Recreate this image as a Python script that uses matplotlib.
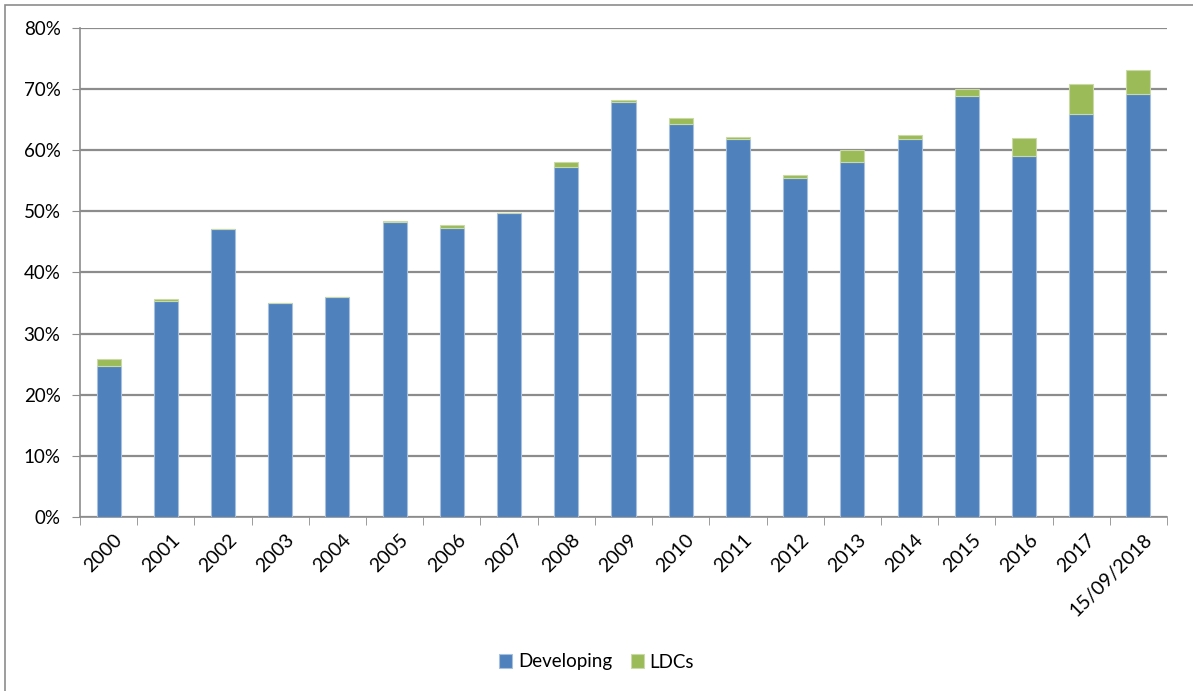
import matplotlib
matplotlib.use("Agg")
import matplotlib.pyplot as plt
from matplotlib.patches import Rectangle
from matplotlib.ticker import FuncFormatter, MultipleLocator
import numpy as np

categories = ["2000", "2001", "2002", "2003", "2004", "2005", "2006", "2007", "2008",
              "2009", "2010", "2011", "2012", "2013", "2014", "2015", "2016", "2017",
              "15/09/2018"]
developing = [24.7, 35.3, 47.1, 35.0, 36.0, 48.2, 47.3, 49.7, 57.2,
              67.9, 64.3, 61.9, 55.5, 58.0, 61.9, 68.8, 59.1, 66.0, 69.2]
ldcs = [1.1, 0.3, 0.0, 0.0, 0.0, 0.3, 0.5, 0.0, 0.9,
        0.3, 1.0, 0.3, 0.5, 2.0, 0.6, 1.3, 2.9, 4.8, 4.0]

blue = "#4F81BD"
green = "#9BBB59"
grid_grey = "#8C8C8C"

plt.rcParams["font.family"] = ["Lato", "DejaVu Sans"]

W, H = 1193, 691
fig = plt.figure(figsize=(W / 100, H / 100), dpi=100)
ax = fig.add_axes([80 / W, 1 - 517 / H, (1167 - 80) / W, (517 - 28) / H])

x = np.arange(len(categories))
ax.bar(x, developing, width=0.42, color=blue, edgecolor="#A7C0DE", linewidth=0.8,
       label="Developing", zorder=3)
ax.bar(x, ldcs, width=0.42, bottom=developing, color=green, edgecolor="#C9DAA8",
       linewidth=0.8, label="LDCs", zorder=3)

ax.set_xlim(-0.5, len(categories) - 0.5)
ax.set_ylim(0, 80)
ax.yaxis.set_major_locator(MultipleLocator(10))
ax.yaxis.set_major_formatter(FuncFormatter(lambda v, p: f"{v:.0f}%"))
ax.grid(axis="y", color=grid_grey, linewidth=1.6, zorder=0)

for s in ["top", "right"]:
    ax.spines[s].set_visible(False)
for s in ["left", "bottom"]:
    ax.spines[s].set_color(grid_grey)
    ax.spines[s].set_linewidth(1.2)

ax.tick_params(axis="y", length=6, color=grid_grey, labelsize=13.5, pad=8)
ax.tick_params(axis="x", which="minor", length=6, color=grid_grey)
ax.tick_params(axis="x", which="major", length=0, labelsize=14, pad=10)
ax.set_xticks(x)
ax.set_xticks(np.arange(-0.5, len(categories), 1.0), minor=True)
ax.set_xticklabels(categories, rotation=45, ha="right", rotation_mode="anchor")
for lbl in ax.get_xticklabels():
    lbl.set_transform(lbl.get_transform() + matplotlib.transforms.ScaledTranslation(
        0.05, 0, fig.dpi_scale_trans))

fig.legend(loc="center", bbox_to_anchor=(0.5, 1 - 662 / H), ncol=2, frameon=False,
           fontsize=13.5, handlelength=0.7, handleheight=0.7, handletextpad=0.3,
           columnspacing=1.0)

fig.patches.append(Rectangle((5 / W, -0.05), 1.2, 1 - 5 / H + 0.05,
                             transform=fig.transFigure, fill=False,
                             edgecolor="#8C8C8C", linewidth=1.2))

fig.savefig("out.png", dpi=100)
